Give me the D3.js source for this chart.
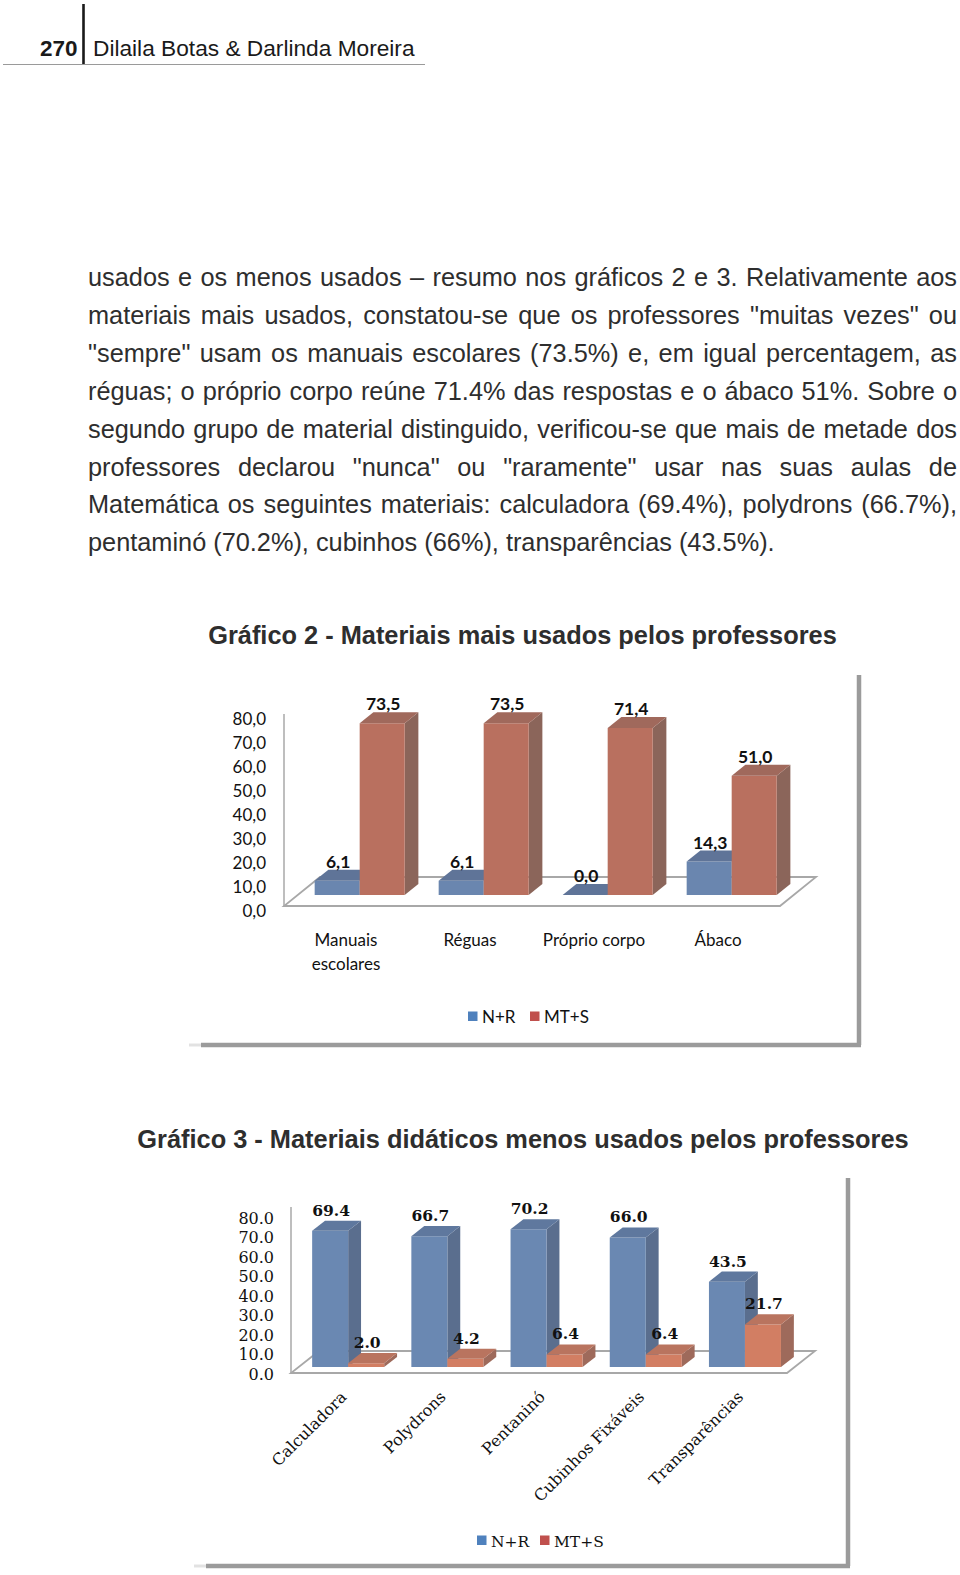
<!DOCTYPE html>
<html>
<head>
<meta charset="utf-8">
<script src="https://cdn.jsdelivr.net/npm/d3@7"></script>
<style>
  body { margin: 0; background: #fff; }
  svg { display: block; }
</style>
</head>
<body>
<svg id="page" width="960" height="1575"></svg>
<script>
// ---- data ----
const seriesNames = ["N+R", "MT+S"];
const yTicks = [0, 10, 20, 30, 40, 50, 60, 70, 80];

// Gráfico 2
const cats2 = ["Manuais\nescolares", "Réguas", "Próprio corpo", "Ábaco"];
const nr2 = [6.1, 6.1, 0.0, 14.3];
const mts2 = [73.5, 73.5, 71.4, 51.0];

// Gráfico 3
const cats3 = ["Calculadora", "Polydrons", "Pentaninó", "Cubinhos Fixáveis", "Transparências"];
const nr3 = [69.4, 66.7, 70.2, 66.0, 43.5];
const mts3 = [2.0, 4.2, 6.4, 6.4, 21.7];

const bodyLines = [
  "usados e os menos usados \u2013 resumo nos gráficos 2 e 3. Relativamente aos",
  "materiais mais usados, constatou-se que os professores \"muitas vezes\" ou",
  "\"sempre\" usam os manuais escolares (73.5%) e, em igual percentagem, as",
  "réguas; o próprio corpo reúne 71.4% das respostas e o ábaco 51%. Sobre o",
  "segundo grupo de material distinguido, verificou-se que mais de metade dos",
  "professores declarou \"nunca\" ou \"raramente\" usar nas suas aulas de",
  "Matemática os seguintes materiais: calculadora (69.4%), polydrons (66.7%),",
  "pentaminó (70.2%), cubinhos (66%), transparências (43.5%)."
];

const svg = d3.select("#page");

// helper: measure text width
function measure(str, font) {
  const t = svg.append("text").style("font", font).text(str);
  const w = t.node().getComputedTextLength();
  t.remove();
  return w;
}

// ---- page header ----
svg.append("text").attr("x", 40).attr("y", 56)
  .style("font", "bold 22.5px 'Liberation Sans', Arial, sans-serif").attr("fill", "#1a1a1a").text("270");
svg.append("line").attr("x1", 83.5).attr("x2", 83.5).attr("y1", 4).attr("y2", 64)
  .attr("stroke", "#1a1a1a").attr("stroke-width", 2.6);
svg.append("line").attr("x1", 3).attr("x2", 425).attr("y1", 64.5).attr("y2", 64.5)
  .attr("stroke", "#9a9a9a").attr("stroke-width", 1.2);
svg.append("text").attr("x", 93).attr("y", 56)
  .style("font", "22.7px 'Liberation Sans', Arial, sans-serif").attr("fill", "#1a1a1a")
  .text("Dilaila Botas & Darlinda Moreira");

// ---- body text (justified) ----
const bodyLeft = 88, bodyRight = 957;
const lastW100 = measure(bodyLines[bodyLines.length - 1], "100px 'Liberation Sans'");
const bodySize = 100 * 687 / lastW100;
const bodyFont = bodySize + "px 'Liberation Sans', Arial, sans-serif";

bodyLines.forEach((line, i) => {
  const y = 286 + i * 37.9;
  const t = svg.append("text").attr("y", y).style("font", bodyFont).attr("fill", "#2e2e2e");
  if (i === bodyLines.length - 1) {
    t.attr("x", bodyLeft).text(line);
    return;
  }
  const words = line.split(" ");
  const widths = words.map(w => measure(w, bodyFont));
  const gap = (bodyRight - bodyLeft - d3.sum(widths)) / (words.length - 1);
  let x = bodyLeft;
  words.forEach((w, k) => {
    t.append("tspan").attr("x", x).text(w);
    x += widths[k] + gap;
  });
});

// ---- titles ----
function title(str, cx, y, width) {
  const f100 = measure(str, "bold 100px 'Liberation Sans'");
  const size = 100 * width / f100;
  svg.append("text").attr("x", cx).attr("y", y).attr("text-anchor", "middle")
    .style("font", "bold " + size + "px 'Liberation Sans', Arial, sans-serif")
    .attr("fill", "#2e2e2e").text(str);
}
title("Gráfico 2 - Materiais mais usados pelos professores", 522.5, 644, 629);
title("Gráfico 3 - Materiais didáticos menos usados pelos professores", 523, 1148, 772);

// ---- frame shadow ----
function frame(x0, x1, y0, y1) {
  svg.append("line").attr("x1", x0 - 12).attr("x2", x0).attr("y1", y1).attr("y2", y1)
    .attr("stroke", "#e2e2e2").attr("stroke-width", 3);
  svg.append("line").attr("x1", x0).attr("x2", x1 + 2).attr("y1", y1).attr("y2", y1)
    .attr("stroke", "#9b9b9b").attr("stroke-width", 4.5);
  svg.append("line").attr("x1", x1).attr("x2", x1).attr("y1", y0).attr("y2", y1)
    .attr("stroke", "#9b9b9b").attr("stroke-width", 4.5);
}
frame(201, 859, 675, 1045);
frame(206, 848, 1178, 1566);

// ---- 3D clustered column chart ----
function bar3d(opt) {
  const g = svg.append("g");
  const x = d3.scaleBand().domain(opt.cats).range([opt.x0, opt.x1])
    .paddingInner(0.274).paddingOuter(0.137);
  const xs = d3.scaleBand().domain(seriesNames).range([0, x.bandwidth()]);
  const h = d3.scaleLinear().domain([0, 80]).range([0, opt.hMax]);
  const P = (px, t, hh) => [px + t * opt.dx, opt.y0 + t * opt.dy - hh];

  // floor
  g.append("polygon")
    .attr("points", [P(opt.x0, 0, 0), P(opt.x1, 0, 0), P(opt.x1, 1, 0), P(opt.x0, 1, 0)].join(" "))
    .attr("fill", "#fff").attr("stroke", "#a8a8a8").attr("stroke-width", 1.8);
  // side wall edge
  g.append("line").attr("x1", opt.x0).attr("x2", opt.x0).attr("y1", opt.y0).attr("y2", opt.wallTop)
    .attr("stroke", "#a8a8a8").attr("stroke-width", 1.5);

  // value axis labels
  const yAxis = d3.scaleLinear().domain([0, 80]).range(opt.axisRange);
  const ax = g.append("g").attr("transform", `translate(${opt.axisX},0)`)
    .call(d3.axisLeft(yAxis).tickValues(yTicks).tickSize(0).tickPadding(0).tickFormat(opt.fmt));
  ax.select(".domain").remove();
  ax.selectAll("text").style("font", opt.tickFont).attr("fill", "#111");

  // bars
  const rows = opt.cats.flatMap((c, i) => seriesNames.map((s, j) => ({ c, s, j, v: opt.values[j][i] })));
  const tf = opt.tf, tb = opt.tb;
  rows.forEach(d => {
    const a = x(d.c) + xs(d.s), b = a + xs.bandwidth(), hh = h(d.v);
    const col = opt.colors[d.j];
    const bg = g.append("g");
    bg.append("polygon").attr("points", [P(b, tf, 0), P(b, tb, 0), P(b, tb, hh), P(b, tf, hh)].join(" "))
      .attr("fill", col.side);
    bg.append("polygon").attr("points", [P(a, tf, 0), P(b, tf, 0), P(b, tf, hh), P(a, tf, hh)].join(" "))
      .attr("fill", col.front);
    bg.append("polygon").attr("points", [P(a, tf, hh), P(b, tf, hh), P(b, tb, hh), P(a, tb, hh)].join(" "))
      .attr("fill", col.top);
    const fc = P((a + b) / 2, tf, hh);
    const back = P(a, tb, hh);
    g.append("text").attr("x", fc[0] + 1).attr("y", back[1] - opt.labelGap)
      .attr("text-anchor", "middle").style("font", opt.valueFont).attr("fill", "#111")
      .text(opt.fmt(d.v));
  });

  // category labels
  opt.cats.forEach(c => {
    const cx = x(c) + x.bandwidth() / 2;
    if (opt.rotate) {
      g.append("text").attr("transform", `translate(${cx + opt.catDx},${opt.catY}) rotate(-45)`)
        .attr("text-anchor", "end").style("font", opt.catFont).attr("fill", "#111").text(c);
    } else {
      const t = g.append("text").attr("text-anchor", "middle").style("font", opt.catFont).attr("fill", "#111");
      c.split("\n").forEach((ln, k) => {
        t.append("tspan").attr("x", cx).attr("y", opt.catY + k * 24).text(ln);
      });
    }
  });

  // legend
  const lg = g.append("g");
  opt.legend.forEach((L, j) => {
    lg.append("rect").attr("x", L.x).attr("y", L.y).attr("width", 9.5).attr("height", 9.5)
      .attr("fill", ["#4f81bd", "#c0504d"][j]);
    lg.append("text").attr("x", L.x + 14).attr("y", L.y + 11).style("font", opt.legendFont)
      .attr("fill", "#111").text(seriesNames[j]);
  });
}

const sansFmt = v => d3.format(".1f")(v).replace(".", ",");

bar3d({
  cats: cats2, values: [nr2, mts2],
  x0: 284, x1: 780, y0: 906, dx: 36, dy: -29, tf: 0.38, tb: 0.76,
  hMax: 187, wallTop: 714,
  axisX: 266, axisRange: [911, 719], fmt: sansFmt,
  tickFont: "17px Lato, 'Open Sans', sans-serif",
  valueFont: "bold 17.5px Lato, 'Open Sans', sans-serif", labelGap: 2,
  catFont: "17px Lato, 'Open Sans', sans-serif", catY: 946,
  legendFont: "17px Lato, 'Open Sans', sans-serif",
  legend: [{ x: 468, y: 1011.5 }, { x: 530, y: 1011.5 }],
  colors: [
    { front: "#6a86af", side: "#58698a", top: "#5f7498" },
    { front: "#b9705f", side: "#8b655a", top: "#a0695c" }
  ]
});

bar3d({
  cats: cats3, values: [nr3, mts3],
  x0: 291, x1: 787, y0: 1373, dx: 28, dy: -22, tf: 0.27, tb: 0.73,
  hMax: 157, wallTop: 1207,
  axisX: 274, axisRange: [1374, 1218], fmt: d3.format(".1f"),
  tickFont: "16px 'DejaVu Serif', serif",
  valueFont: "bold 15.5px 'DejaVu Serif', serif", labelGap: 5,
  catFont: "16px 'DejaVu Serif', serif", catY: 1398, catDx: 7, rotate: true,
  legendFont: "15.5px 'DejaVu Serif', serif",
  legend: [{ x: 477, y: 1535.5 }, { x: 540, y: 1535.5 }],
  colors: [
    { front: "#6a88b2", side: "#5a6e8e", top: "#5f789e" },
    { front: "#d27e63", side: "#9e6a5b", top: "#b9745f" }
  ]
});
</script>
</body>
</html>
